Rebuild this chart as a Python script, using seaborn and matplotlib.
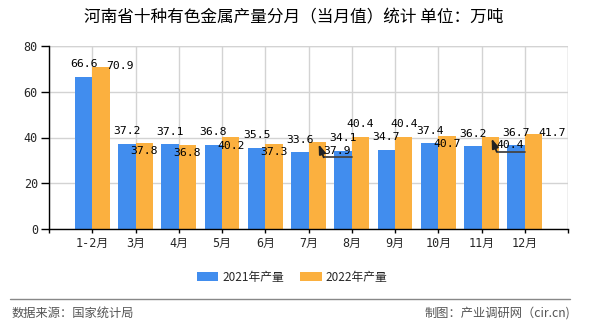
import numpy as np
import pandas as pd
import matplotlib
matplotlib.use("Agg")
import matplotlib.pyplot as plt
import seaborn as sns
from matplotlib.lines import Line2D

# ---- data ----
months = ["1-2月", "3月", "4月", "5月", "6月", "7月", "8月", "9月", "10月", "11月", "12月"]
output_2021 = [66.6, 37.2, 37.1, 36.8, 35.5, 33.6, 34.1, 34.7, 37.4, 36.2, 36.7]
output_2022 = [70.9, 37.8, 36.8, 40.2, 37.3, 37.9, 40.4, 40.4, 40.7, 40.4, 41.7]
series_names = ["2021年产量", "2022年产量"]
y_ticks = [0, 20, 40, 60, 80]

# where each value label sits relative to its bar
label_mode_2021 = ["above"] * 11
label_mode_2022 = ["right", "inside", "inside", "inside", "inside", "callout",
                   "above", "above", "inside", "callout", "right"]

BLUE = "#418DEE"
ORANGE = "#FBB03F"
GRID = "#D3D3D3"
CJK = "Noto Sans CJK SC"
NUM = ["DejaVu Sans Mono", CJK]

df = pd.DataFrame({
    "month": months * 2,
    "value": output_2021 + output_2022,
    "series": [series_names[0]] * len(months) + [series_names[1]] * len(months),
})

sns.set_theme(style="white")
plt.rcParams["font.family"] = NUM

fig = plt.figure(figsize=(5.9, 3.3), dpi=100)
ax = fig.add_axes([49 / 590, 1 - 229 / 330, (568 - 49) / 590, (229 - 46) / 330])

sns.barplot(data=df, x="month", y="value", hue="series", order=months,
            hue_order=series_names, palette=[BLUE, ORANGE], width=0.8,
            saturation=1, ax=ax, legend=True, edgecolor="none", linewidth=0)

ax.set_xlim(-1, len(months))
ax.set_ylim(0, 80)
ax.set_xticks(range(-1, len(months) + 1))
ax.set_xticklabels([""] + months + [""], fontsize=8.5, family=NUM)
ax.set_yticks(y_ticks)
ax.set_yticklabels([str(t) for t in y_ticks], fontsize=8.5, family=NUM)
ax.set_xlabel("")
ax.set_ylabel("")

ax.grid(True, color=GRID, lw=1)
ax.set_axisbelow(True)
for s in ["top", "right"]:
    ax.spines[s].set_visible(False)
for s in ["left", "bottom"]:
    ax.spines[s].set_color("black")
    ax.spines[s].set_linewidth(1)
ax.tick_params(axis="y", length=6, width=1, color="black", pad=2, left=True)
ax.tick_params(axis="x", length=3, width=1, color="black", pad=3, bottom=True)
# top and right frame drawn as grid lines
ax.axhline(80, color=GRID, lw=1, zorder=0)
ax.axvline(len(months), color=GRID, lw=1, zorder=0)

# ---- value labels ----
offsets = {"above": (0, 12.5), "inside": (0, -8.5), "right": (19, 0.5), "callout": (20, -8.5)}

def bar_tops(container):
    return [(p.get_x() + p.get_width() / 2, p.get_height()) for p in container.patches]

fig.canvas.draw()
inv = ax.transData.inverted()
for container, values, modes in [(ax.containers[0], output_2021, label_mode_2021),
                                 (ax.containers[1], output_2022, label_mode_2022)]:
    for (xc, h), v, mode in zip(bar_tops(container), values, modes):
        dx, dy = offsets[mode]
        ax.annotate(f"{v:.1f}", xy=(xc, h), xytext=(dx, dy), textcoords="offset pixels",
                    ha="center", va="center", fontsize=8.2, family=NUM, color="black",
                    annotation_clip=False)
        if mode == "callout":
            bx, by = ax.transData.transform((xc, h))
            tip = inv.transform((bx + 1.5, by - 2))
            bend = inv.transform((bx + 6.5, by - 15))
            end = inv.transform((bx + 35, by - 15))
            ax.add_line(Line2D([end[0], bend[0]], [end[1], bend[1]], color="#444444",
                               lw=1.3, clip_on=False, zorder=5))
            ax.annotate("", xy=tip, xytext=bend,
                        arrowprops=dict(arrowstyle="-|>,head_length=0.7,head_width=0.25",
                                        mutation_scale=8, color="#222222", lw=1.3,
                                        shrinkA=0, shrinkB=0),
                        annotation_clip=False, zorder=6)

# ---- legend ----
handles, labels = ax.get_legend_handles_labels()
ax.get_legend().remove()
fig.legend(handles, labels, loc="center", bbox_to_anchor=(292 / 590, 1 - 277 / 330),
           ncol=2, frameon=False, prop={"family": CJK, "size": 8.5},
           handlelength=1.85, handleheight=0.7, handletextpad=0.35, columnspacing=1.3)

# ---- title & footer ----
fig.text(294 / 590, 1 - 18 / 330, "河南省十种有色金属产量分月（当月值）统计 单位：万吨",
         ha="center", va="center", fontsize=12, family=CJK, color="black")
fig.add_artist(Line2D([10 / 590, 570 / 590], [1 - 299 / 330] * 2, color="#888888", lw=1))
fig.text(12 / 590, 1 - 313 / 330, "数据来源：国家统计局", ha="left", va="center",
         fontsize=8.8, family=CJK, color="#555555")
fig.text(570 / 590, 1 - 313 / 330, "制图：产业调研网（cir.cn)", ha="right", va="center",
         fontsize=8.8, family=CJK, color="#555555")

fig.savefig("out.png", dpi=100)
